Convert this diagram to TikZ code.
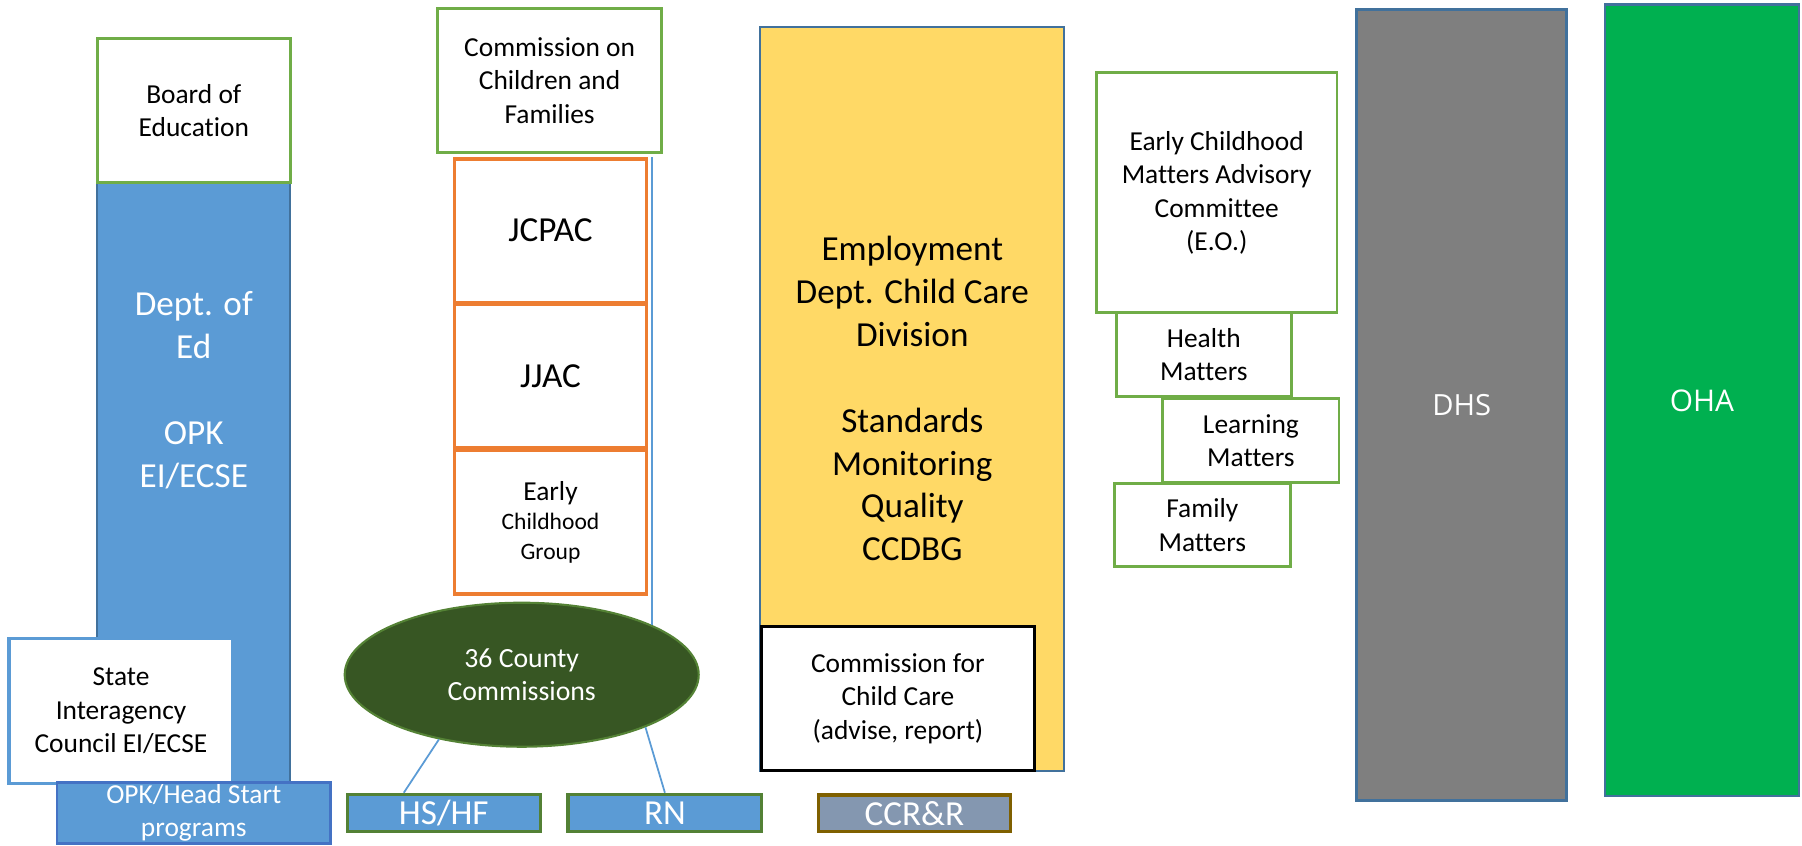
\documentclass[tikz,border=0pt]{standalone}
\usepackage{fontspec}
\setmainfont{Carlito}[Ligatures=NoCommon]
\newfontfamily\agencyfont{Open Sans}
\usepackage{tikz}
\usetikzlibrary{shapes.geometric}

\definecolor{boxgreen}{HTML}{70AD47}
\definecolor{boxorange}{HTML}{ED7D31}
\definecolor{edblue}{HTML}{5B9BD5}
\definecolor{edline}{HTML}{41719C}
\definecolor{hsline}{HTML}{4472C4}
\definecolor{ccyellow}{HTML}{FFD966}
\definecolor{countygreen}{HTML}{375623}
\definecolor{countyline}{HTML}{548235}
\definecolor{smallgreen}{HTML}{538135}
\definecolor{ccrrfill}{HTML}{8497B0}
\definecolor{ccrrline}{HTML}{7F6000}
\definecolor{dhsgray}{HTML}{7F7F7F}
\definecolor{ohagreen}{HTML}{00B050}

\newcommand\smalltxt{\fontsize{7.8}{9.5}\selectfont}
\newcommand\bigtxt{\fontsize{10}{12.2}\selectfont}

\begin{document}
\begin{tikzpicture}[y=-1cm,
  greenbox/.style={draw=boxgreen, line width=0.8pt, fill=white, align=center, font=\smalltxt, inner sep=1pt},
  orangebox/.style={draw=boxorange, line width=1.1pt, fill=white, align=center, inner sep=1pt, minimum width=1.919cm},
  bluebar/.style={draw=edline, line width=0.5pt, fill=edblue},
  smallbar/.style={draw=smallgreen, line width=0.9pt, fill=edblue, text=white, font=\bigtxt, inner sep=0pt},
  link/.style={edblue, line width=0.5pt}]
\useasboundingbox (0,0) rectangle (18.02,8.45);

% Dept. of Ed column
\node (deptofed) [bluebar, minimum width=1.929cm, minimum height=6cm] at (1.938,4.827) {};
\node (deptlabel) [text=white, font=\bigtxt, align=center] at (1.938,3.90) {Dept. of\\Ed\\[12.2pt]OPK\\EI/ECSE};
\node (board) [greenbox, minimum width=1.929cm, minimum height=1.444cm] at (1.938,1.105) {Board of\\Education};
\node (state) [draw=edblue, line width=0.9pt, fill=white, align=center, font=\smalltxt, minimum width=2.241cm, minimum height=1.45cm] at (1.21,7.108) {State\\Interagency\\Council EI/ECSE};
\node (opkhs) [draw=hsline, line width=0.7pt, fill=edblue, text=white, align=center, font=\smalltxt, inner sep=0pt, minimum width=2.733cm, minimum height=0.606cm] at (1.938,8.13) {OPK/Head Start\\programs};

% commission column
\node (ccf) [greenbox, minimum width=2.241cm, minimum height=1.444cm] at (5.496,0.805) {Commission on\\Children and\\Families};
\node (jcpac) [orangebox, minimum height=1.44cm, font=\bigtxt] at (5.505,2.307) {JCPAC};
\node (jjac) [orangebox, minimum height=1.44cm, font=\bigtxt] at (5.505,3.76) {JJAC};
\node (ecg) [orangebox, minimum height=1.443cm, font=\fontsize{6.7}{8.4}\selectfont] at (5.505,5.222) {{\smalltxt Early}\\Childhood\\Group};
\node (county) [ellipse, draw=countyline, line width=0.6pt, fill=countygreen, text=white, align=center, font=\fontsize{7.9}{9.3}\selectfont, minimum width=3.54cm, minimum height=1.44cm] at (5.217,6.747) {36 County\\Commissions};
\node (hshf) [smallbar, minimum width=1.929cm, minimum height=0.374cm] at (4.438,8.13) {HS/HF};
\node (rn) [smallbar, minimum width=1.939cm, minimum height=0.374cm] at (6.649,8.13) {RN};
\draw [link] (county.21) -- (county.21 |- jcpac.north);
\draw [link] (county.-142) -- ([xshift=-4mm]hshf.north);
\draw [link] (county.-23) -- (rn.north);

% child care division
\node (eccd) [draw=edline, line width=0.5pt, fill=ccyellow, align=center, font=\bigtxt, minimum width=3.041cm, minimum height=7.44cm] at (9.123,3.987) {Employment\\Dept. Child Care\\Division\\[12.2pt]Standards\\Monitoring\\Quality\\CCDBG};
\node (cfcc) [draw=black, line width=0.9pt, fill=white, align=center, font=\smalltxt, minimum width=2.73cm, minimum height=1.44cm] at (8.979,6.987) {Commission for\\Child Care\\(advise, report)};
\node (ccrr) [draw=ccrrline, line width=0.9pt, fill=ccrrfill, text=white, font=\bigtxt, inner sep=0pt, minimum width=1.921cm, minimum height=0.367cm] at (9.144,8.133) {CCR\&R};

% early childhood matters
\node (health) [greenbox, minimum width=1.751cm, minimum height=0.84cm] at (12.038,3.547) {Health\\Matters};
\node (ecmac) [greenbox, minimum width=2.407cm, minimum height=2.4cm] at (12.167,1.927) {Early Childhood\\Matters Advisory\\Committee\\(E.O.)};
\node (learning) [greenbox, minimum width=1.763cm, minimum height=0.844cm] at (12.509,4.405) {Learning\\Matters};
\node (family) [greenbox, minimum width=1.764cm, minimum height=0.834cm] at (12.023,5.25) {Family\\Matters};

% DHS and OHA
\node (dhs) [draw=edline, line width=0.8pt, fill=dhsgray, text=white, font=\agencyfont\fontsize{8.3}{10}\selectfont, minimum width=2.1cm, minimum height=7.917cm] at (14.617,4.05) {DHS};
\node (oha) [draw=edline, line width=0.8pt, fill=ohagreen, text=white, font=\agencyfont\fontsize{8.5}{10}\selectfont, minimum width=1.94cm, minimum height=7.915cm] at (17.02,4.003) {OHA};
\end{tikzpicture}
\end{document}
